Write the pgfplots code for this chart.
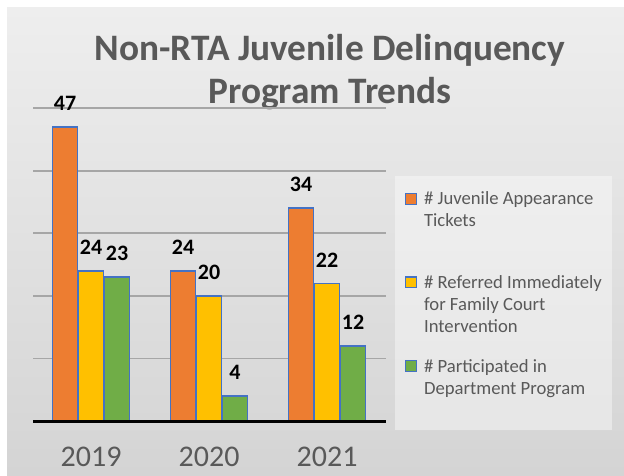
\documentclass[border=0pt]{standalone}
\usepackage{fontspec}
\setmainfont{Carlito}
\usepackage{pgfplots}
\pgfplotsset{compat=1.18}
\definecolor{barorange}{HTML}{ED7D31}
\definecolor{baryellow}{HTML}{FFC000}
\definecolor{bargreen}{HTML}{70AD47}
\definecolor{barblue}{HTML}{4472C4}
\definecolor{txtgray}{HTML}{595959}
\definecolor{gridgray}{HTML}{A6A6A6}
\definecolor{bgtop}{HTML}{EEEEEE}
\definecolor{bgbot}{HTML}{D4D4D4}

\begin{document}
\begin{tikzpicture}[x=0.75pt,y=0.75pt]
% 1 unit = 1 px of the 624x475 reference, origin bottom left
\useasboundingbox (0,0) rectangle (624,475);
\fill[white] (0,0) rectangle (624,475);
\shade[top color=bgtop, bottom color=bgbot] (7,0) rectangle (624,467);
% legend panel
\fill[white, opacity=0.4] (395,45) rectangle (612,299);
% title
\node[font=\bfseries\fontsize{28pt}{32.25pt}\selectfont, text=txtgray, align=center, anchor=base]
  at (330,371) {Non-RTA Juvenile Delinquency\\Program Trends};

\begin{axis}[
    at={(28,86)}, anchor=south west,
    scale only axis,
    width=264.75pt, height=234.75pt,
    ybar=0.75pt, bar width=18.75pt,
    xmin=-0.4915, xmax=2.5, ymin=0, ymax=50,
    xtick={0,1,2}, xticklabels={2019,2020,2021},
    ytick={10,20,30,40,50}, yticklabels={},
    ymajorgrids,
    grid style={gridgray, line width=1.4pt},
    axis line style={draw=none},
    major tick length=0pt,
    xticklabel style={font=\fontsize{22.5pt}{26pt}\selectfont, text=txtgray, anchor=base, yshift=-34pt},
    /pgf/number format/assume math mode=true,
    nodes near coords,
    every node near coord/.append style={font=\bfseries\fontsize{16.5pt}{20pt}\selectfont,
        text=black, inner sep=0pt, anchor=south, yshift=11.5pt},
    legend style={at={(1.054,0.742)}, anchor=north west, draw=none, fill=none,
        inner sep=0pt, row sep=47.5pt, column sep=3pt,
        font=\fontsize{14pt}{16.5pt}\selectfont, text=txtgray,
        cells={anchor=base west}},
    legend image code/.code={\draw[#1, line width=0.8pt] (0pt,0.4pt) rectangle (8.25pt,8.6pt);},
    clip=false,
]
\addplot[fill=barorange, draw=barblue, line width=1.3pt] coordinates {(0,47) (1,24) (2,34)};
\addlegendentry{\vtop{\hbox{\# Juvenile Appearance}\hbox{Tickets}}}
\addplot[fill=baryellow, draw=barblue, line width=1.3pt] coordinates {(0,24) (1,20) (2,22)};
\addlegendentry{\vtop{\hbox{\# Referred Immediately}\hbox{for Family Court}\hbox{Intervention}}}
\addplot[fill=bargreen, draw=barblue, line width=1.3pt] coordinates {(0,23) (1,4) (2,12)};
\addlegendentry{\vtop{\hbox{\# Participated in}\hbox{Department Program}}}
\draw[black, line width=2.2pt] (rel axis cs:0,0) -- (rel axis cs:1,0);
\end{axis}
\end{tikzpicture}
\end{document}
